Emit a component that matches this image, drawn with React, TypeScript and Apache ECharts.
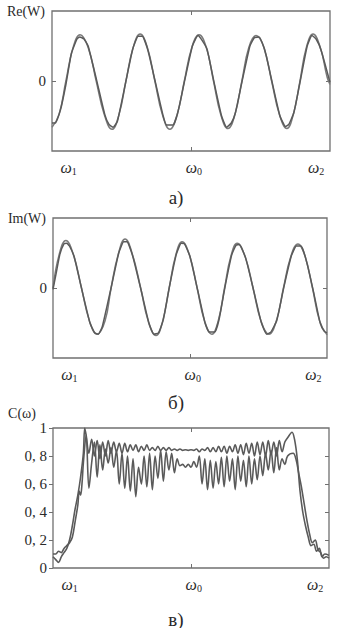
import React, { useEffect, useRef } from "react";
import * as echarts from "echarts";

// ---- data (normalized frequency axis 0..1 between plot edges) ----
const xTickLabels = ["ω1", "ω0", "ω2"];
const xTickPositions = [0.06, 0.51, 0.95];
const cYTicks = [0, 0.2, 0.4, 0.6, 0.8, 1];

// Panel а) Re(W): smooth (theoretical) and measured curves
const reSmooth: [number, number][] = [
  [0, -0.66], [0.025, -0.48], [0.05, 0], [0.076, 0.48], [0.101, 0.66], [0.13, 0.48], [0.159, 0],
  [0.188, -0.48], [0.216, -0.69], [0.241, -0.48], [0.266, 0], [0.292, 0.48], [0.317, 0.67],
  [0.343, 0.48], [0.37, 0], [0.397, -0.48], [0.424, -0.69], [0.45, -0.48], [0.476, 0],
  [0.503, 0.48], [0.529, 0.66], [0.555, 0.48], [0.581, 0], [0.607, -0.48], [0.633, -0.68],
  [0.658, -0.48], [0.683, 0], [0.708, 0.48], [0.734, 0.65], [0.762, 0.48], [0.79, 0],
  [0.818, -0.48], [0.845, -0.68], [0.868, -0.48], [0.892, 0], [0.915, 0.48], [0.939, 0.67],
  [0.965, 0.48], [0.99, 0.05], [1.0, -0.05],
];
const reMeasured: [number, number][] = [
  [0, -0.6], [0.012, -0.6], [0.03, -0.42], [0.05, -0.05], [0.07, 0.4], [0.09, 0.6], [0.1, 0.63],
  [0.115, 0.6], [0.13, 0.5], [0.16, 0.02], [0.19, -0.48], [0.205, -0.62], [0.22, -0.66],
  [0.235, -0.58], [0.265, -0.02], [0.29, 0.45], [0.31, 0.64], [0.325, 0.64], [0.345, 0.44],
  [0.372, -0.02], [0.4, -0.5], [0.412, -0.63], [0.435, -0.63], [0.452, -0.46], [0.478, 0.02],
  [0.505, 0.5], [0.525, 0.65], [0.54, 0.58], [0.558, 0.45], [0.583, -0.02], [0.61, -0.5],
  [0.628, -0.66], [0.645, -0.6], [0.66, -0.45], [0.685, 0.02], [0.712, 0.5], [0.728, 0.62],
  [0.745, 0.63], [0.765, 0.45], [0.792, -0.02], [0.82, -0.5], [0.84, -0.65], [0.852, -0.62],
  [0.87, -0.45], [0.894, 0.02], [0.918, 0.5], [0.935, 0.65], [0.95, 0.6], [0.968, 0.44],
  [1.0, -0.02],
];

// Panel б) Im(W)
const imSmooth: [number, number][] = [
  [0, 0], [0.022, 0.47], [0.047, 0.68], [0.075, 0.47], [0.104, 0], [0.133, -0.47], [0.161, -0.66],
  [0.19, -0.47], [0.212, 0], [0.238, 0.48], [0.263, 0.7], [0.29, 0.48], [0.32, 0], [0.348, -0.48],
  [0.376, -0.68], [0.4, -0.48], [0.424, 0], [0.448, 0.47], [0.471, 0.66], [0.498, 0.47],
  [0.526, 0], [0.553, -0.47], [0.58, -0.66], [0.603, -0.47], [0.626, 0], [0.649, 0.45],
  [0.672, 0.64], [0.701, 0.45], [0.73, 0], [0.759, -0.47], [0.788, -0.66], [0.815, -0.47],
  [0.841, 0], [0.868, 0.45], [0.894, 0.63], [0.92, 0.45], [0.947, 0], [0.973, -0.47], [1.0, -0.67],
];
const imMeasured: [number, number][] = [
  [0, -0.02], [0.012, 0.22], [0.025, 0.48], [0.04, 0.63], [0.05, 0.64], [0.06, 0.6], [0.077, 0.45],
  [0.105, -0.02], [0.135, -0.5], [0.152, -0.64], [0.165, -0.66], [0.18, -0.55], [0.213, 0.02],
  [0.24, 0.5], [0.258, 0.66], [0.27, 0.66], [0.292, 0.44], [0.322, -0.04], [0.35, -0.5],
  [0.368, -0.66], [0.385, -0.64], [0.402, -0.46], [0.425, 0.02], [0.45, 0.48], [0.468, 0.64],
  [0.48, 0.63], [0.5, 0.45], [0.528, -0.03], [0.555, -0.5], [0.57, -0.63], [0.59, -0.63],
  [0.606, -0.45], [0.628, 0.02], [0.652, 0.47], [0.668, 0.61], [0.68, 0.62], [0.703, 0.43],
  [0.732, -0.03], [0.76, -0.49], [0.78, -0.66], [0.795, -0.63], [0.817, -0.46], [0.843, 0.02],
  [0.87, 0.46], [0.888, 0.6], [0.905, 0.6], [0.922, 0.43], [0.95, -0.04], [0.975, -0.5],
  [0.99, -0.62], [1.0, -0.64],
];

// Panel в) C(ω): two coherence curves
const cUpper: [number, number][] = [
  [0, 0.08], [0.01, 0.06], [0.02, 0.04], [0.03, 0.08], [0.04, 0.11], [0.05, 0.14], [0.06, 0.2],
  [0.07, 0.3], [0.08, 0.42], [0.09, 0.52], [0.1, 0.65], [0.11, 0.82], [0.115, 1.0], [0.12, 0.95],
  [0.13, 0.82], [0.14, 0.92], [0.15, 0.8], [0.16, 0.91], [0.17, 0.78], [0.18, 0.9], [0.19, 0.8],
  [0.2, 0.91], [0.21, 0.82], [0.22, 0.9], [0.23, 0.83], [0.24, 0.89], [0.25, 0.82], [0.26, 0.89],
  [0.27, 0.83], [0.28, 0.88], [0.29, 0.84], [0.3, 0.88], [0.31, 0.83], [0.32, 0.87], [0.33, 0.84],
  [0.34, 0.88], [0.35, 0.84], [0.36, 0.86], [0.37, 0.84], [0.38, 0.87], [0.39, 0.84], [0.4, 0.86],
  [0.41, 0.84], [0.42, 0.86], [0.43, 0.84], [0.44, 0.85], [0.45, 0.84], [0.46, 0.85], [0.47, 0.84],
  [0.48, 0.845], [0.49, 0.84], [0.5, 0.845], [0.51, 0.84], [0.52, 0.85], [0.53, 0.83], [0.54, 0.85],
  [0.55, 0.84], [0.56, 0.86], [0.57, 0.83], [0.58, 0.86], [0.59, 0.83], [0.6, 0.87], [0.61, 0.83],
  [0.62, 0.87], [0.63, 0.82], [0.64, 0.87], [0.65, 0.83], [0.66, 0.88], [0.67, 0.82], [0.68, 0.88],
  [0.69, 0.81], [0.7, 0.89], [0.71, 0.82], [0.72, 0.89], [0.73, 0.8], [0.74, 0.9], [0.75, 0.81],
  [0.76, 0.9], [0.77, 0.8], [0.78, 0.91], [0.79, 0.81], [0.8, 0.9], [0.81, 0.8], [0.82, 0.91],
  [0.83, 0.83], [0.84, 0.9], [0.85, 0.93], [0.866, 0.97], [0.875, 0.92], [0.885, 0.78],
  [0.895, 0.55], [0.905, 0.4], [0.915, 0.3], [0.925, 0.22], [0.935, 0.16], [0.945, 0.17],
  [0.955, 0.12], [0.965, 0.14], [0.975, 0.08], [0.985, 0.1], [1.0, 0.09],
];
const cLower: [number, number][] = [
  [0, 0.1], [0.01, 0.1], [0.02, 0.12], [0.03, 0.11], [0.04, 0.14], [0.05, 0.16], [0.06, 0.18],
  [0.07, 0.22], [0.08, 0.33], [0.09, 0.45], [0.095, 0.55], [0.1, 0.52], [0.105, 0.6], [0.11, 0.75],
  [0.12, 0.95], [0.13, 0.57], [0.14, 0.75], [0.15, 0.9], [0.16, 0.65], [0.17, 0.88], [0.18, 0.7],
  [0.19, 0.85], [0.2, 0.75], [0.21, 0.86], [0.22, 0.72], [0.23, 0.84], [0.24, 0.6], [0.25, 0.82],
  [0.26, 0.57], [0.27, 0.8], [0.28, 0.55], [0.29, 0.78], [0.3, 0.51], [0.31, 0.72], [0.32, 0.6],
  [0.33, 0.8], [0.34, 0.58], [0.35, 0.82], [0.36, 0.56], [0.37, 0.8], [0.38, 0.64], [0.39, 0.84],
  [0.4, 0.62], [0.41, 0.83], [0.42, 0.7], [0.43, 0.82], [0.44, 0.68], [0.45, 0.78], [0.46, 0.73],
  [0.47, 0.74], [0.48, 0.72], [0.49, 0.74], [0.5, 0.72], [0.51, 0.76], [0.52, 0.72], [0.53, 0.8],
  [0.54, 0.6], [0.55, 0.78], [0.56, 0.56], [0.57, 0.77], [0.58, 0.57], [0.59, 0.76], [0.6, 0.6],
  [0.61, 0.79], [0.62, 0.58], [0.63, 0.8], [0.64, 0.62], [0.65, 0.78], [0.66, 0.56], [0.67, 0.8],
  [0.68, 0.62], [0.69, 0.77], [0.7, 0.58], [0.71, 0.8], [0.72, 0.6], [0.73, 0.78], [0.74, 0.63],
  [0.75, 0.8], [0.76, 0.66], [0.77, 0.82], [0.78, 0.7], [0.79, 0.84], [0.8, 0.68], [0.81, 0.86],
  [0.82, 0.7], [0.83, 0.78], [0.84, 0.74], [0.85, 0.8], [0.87, 0.82], [0.88, 0.78], [0.89, 0.68],
  [0.9, 0.58], [0.91, 0.46], [0.92, 0.34], [0.93, 0.24], [0.94, 0.18], [0.95, 0.2], [0.96, 0.13],
  [0.97, 0.11], [0.98, 0.07], [0.99, 0.08], [1.0, 0.07],
];

const FONT = "serif";
const TXT = "#2a2a2a";
const LINE = "#5a5a5a";
const FRAME = "#707070";

const richOmega = {
  w: { fontFamily: FONT, fontStyle: "italic", fontSize: 16, color: TXT },
  s: { fontFamily: FONT, fontSize: 10, color: TXT, padding: [8, 0, 0, 0] },
};

function omegaFormatter(v: number) {
  let best = 0;
  for (let i = 0; i < xTickPositions.length; i++) {
    if (Math.abs(xTickPositions[i] - v) < Math.abs(xTickPositions[best] - v)) best = i;
  }
  const t = xTickLabels[best];
  return `{w|${t[0]}}{s|${t.slice(1)}}`;
}

export default function App() {
  const ref = useRef<HTMLDivElement>(null);
  useEffect(() => {
    if (!ref.current) return;
    const chart = echarts.init(ref.current, undefined, { renderer: "svg" });

    const panels = [
      { grid: { left: 52, top: 11, width: 278, height: 140 }, min: -1, max: 1, name: "Re(W)", series: [reSmooth, reMeasured], caption: "а)", capY: 197, isC: false },
      { grid: { left: 53, top: 218, width: 274, height: 140 }, min: -1, max: 1, name: "Im(W)", series: [imSmooth, imMeasured], caption: "б)", capY: 402, isC: false },
      { grid: { left: 53, top: 428, width: 276, height: 140 }, min: 0, max: 1, name: "C(ω)", series: [cUpper, cLower], caption: "в)", capY: 619, isC: true },
    ];

    const grid: any[] = [];
    const xAxis: any[] = [];
    const yAxis: any[] = [];
    const series: any[] = [];
    const graphic: any[] = [];

    panels.forEach((p, i) => {
      grid.push({ ...p.grid, show: true, borderColor: FRAME, borderWidth: 1.3, backgroundColor: "transparent" });
      xAxis.push({
        type: "value", gridIndex: i, min: 0, max: 1, position: "bottom",
        axisLine: { show: false, onZero: false },
        splitLine: { show: false },
        axisTick: { show: true, inside: true, length: 4, customValues: [0.5], lineStyle: { color: FRAME } },
        axisLabel: { customValues: xTickPositions, formatter: omegaFormatter, rich: richOmega, margin: 7, fontFamily: FONT },
      });
      xAxis.push({
        type: "value", gridIndex: i, min: 0, max: 1, position: "top",
        axisLine: { show: false, onZero: false }, splitLine: { show: false },
        axisTick: { show: true, inside: true, length: 4, customValues: [0.5], lineStyle: { color: FRAME } },
        axisLabel: { show: false },
      });
      const yVals = p.isC ? cYTicks : [0];
      yAxis.push({
        type: "value", gridIndex: i, min: p.min, max: p.max, position: "left",
        name: p.name, nameLocation: "end", nameGap: 0,
        nameTextStyle: { fontFamily: FONT, fontSize: 14, color: TXT, align: "right", verticalAlign: "middle", padding: [0, p.isC ? 17 : 7, 0, 0] },
        axisLine: { show: false, onZero: false }, splitLine: { show: false },
        axisTick: { show: true, inside: !p.isC, length: 4, customValues: yVals, lineStyle: { color: FRAME } },
        axisLabel: {
          customValues: yVals, margin: 6,
          fontFamily: FONT, fontSize: 15, color: TXT,
          formatter: (v: number) => (Math.abs(v) < 1e-9 ? "0" : Math.abs(v - 1) < 1e-9 ? "1" : v.toFixed(1).replace(".", ", ")),
        },
      });
      yAxis.push({
        type: "value", gridIndex: i, min: p.min, max: p.max, position: "right",
        axisLine: { show: false, onZero: false }, splitLine: { show: false },
        axisTick: { show: true, inside: true, length: 4, customValues: p.isC ? [0.2, 0.4, 0.6, 0.8] : [0], lineStyle: { color: FRAME } },
        axisLabel: { show: false },
      });
      p.series.forEach((d, k) => {
        series.push({
          type: "line", xAxisIndex: i * 2, yAxisIndex: i * 2, data: d,
          showSymbol: false, symbol: "none",
          smooth: p.isC ? 0.35 : k === 0 ? 0.45 : 0.15,
          lineStyle: { color: k === 0 && !p.isC ? "#7a7a7a" : LINE, width: p.isC ? 1.6 : 1.5 },
        });
      });
      graphic.push({
        type: "text", x: 176, y: p.capY,
        style: { text: p.caption, fontFamily: FONT, fontSize: 19, fill: TXT, textAlign: "center", textVerticalAlign: "middle" },
      });
    });

    chart.setOption({
      animation: false,
      backgroundColor: "#ffffff",
      textStyle: { fontFamily: FONT },
      grid, xAxis, yAxis, series, graphic,
    });
    return () => chart.dispose();
  }, []);
  return <div ref={ref} style={{ position: "fixed", left: 0, top: 0, width: 346, height: 628, background: "#fff" }} />;
}
